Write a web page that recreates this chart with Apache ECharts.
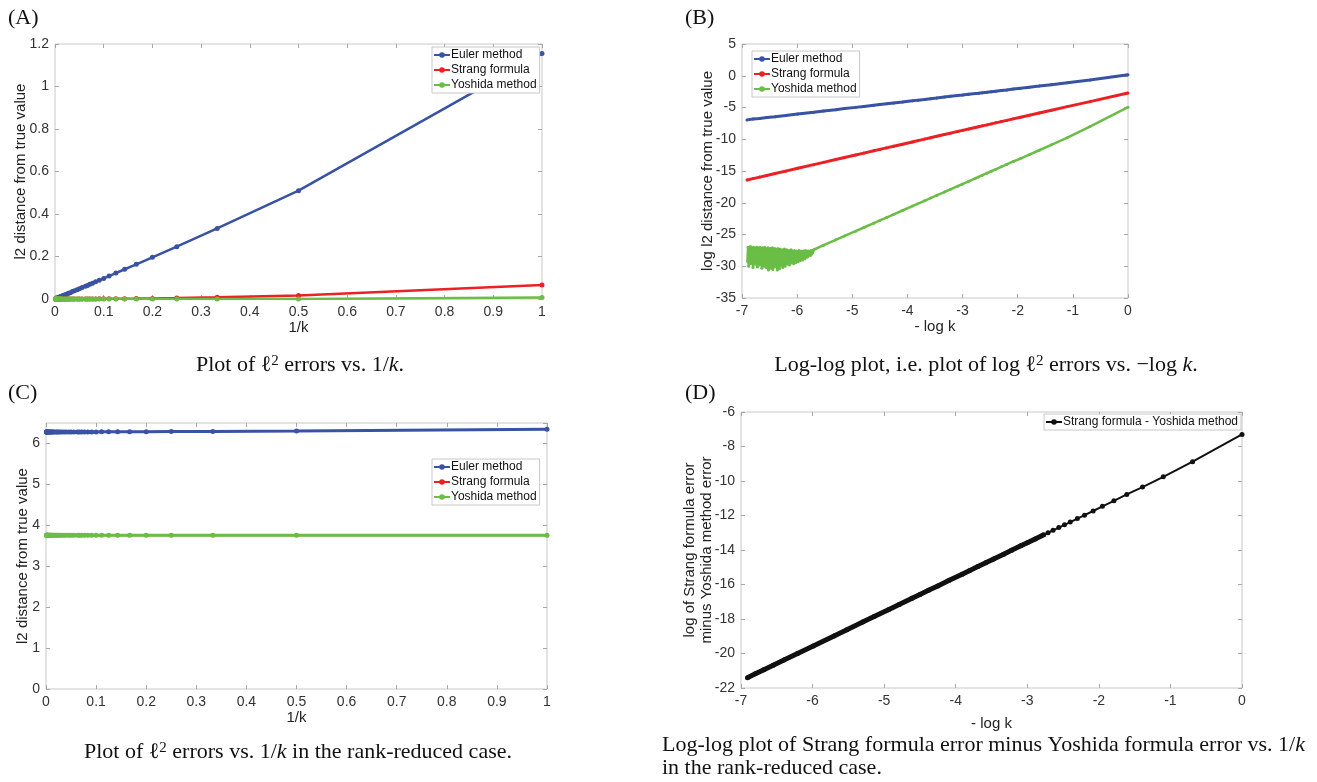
<!DOCTYPE html>
<html>
<head>
<meta charset="utf-8">
<title>Splitting errors</title>
<script src="https://cdn.jsdelivr.net/npm/echarts@6/dist/echarts.min.js"></script>
<style>
    html, body { margin: 0; padding: 0; background: #fff; }
    #main { width: 1317px; height: 782px; }
</style>
</head>
<body>
<div id="main"></div>
<script>
// sampled k = 1..1000, written as 1/k (panels A, C) and -log k (panels B, D)
var invK = [1, 0.5, 0.333, 0.25, 0.2, 0.167, 0.143, 0.125, 0.111, 0.1, 0.0909, 0.0833, 0.0769, 0.0714, 0.0667, 0.0625,
    0.0556, 0.05, 0.0455, 0.04, 0.0357, 0.0313, 0.0278, 0.025, 0.0222, 0.02, 0.0167, 0.0143, 0.0125, 0.0111, 0.01,
    0.0083, 0.0071, 0.0059, 0.005, 0.004, 0.0033, 0.0025, 0.002, 0.0017, 0.0014, 0.0013, 0.0011, 0.001];
var negLogK = [0, -0.69, -1.10, -1.39, -1.61, -1.79, -1.95, -2.08, -2.20, -2.30, -2.40, -2.48, -2.56, -2.64, -2.71, -2.77,
    -2.89, -3.00, -3.09, -3.22, -3.33, -3.47, -3.58, -3.69, -3.81, -3.91, -4.09, -4.25, -4.38, -4.50, -4.61,
    -4.79, -4.94, -5.14, -5.30, -5.52, -5.70, -5.99, -6.21, -6.40, -6.55, -6.68, -6.80, -6.91];

// (A) l2 errors vs 1/k
var eulerA = [1.155, 0.510, 0.332, 0.246, 0.196, 0.163, 0.140, 0.122, 0.108, 0.097, 0.088, 0.081, 0.074, 0.069, 0.064, 0.060,
    0.054, 0.048, 0.044, 0.039, 0.035, 0.030, 0.027, 0.024, 0.0215, 0.0193, 0.0161, 0.0138, 0.0120, 0.0107, 0.0096,
    0.0080, 0.0069, 0.0057, 0.0048, 0.0039, 0.0032, 0.0024, 0.0019, 0.0016, 0.0014, 0.0012, 0.0011, 0.00096];
var strangA = [0.066, 0.0169, 0.0077, 0.0044, 0.0028, 0.0020, 0.0015, 0.0011, 0.0009, 0.0007, 0.0006, 0.0005, 0.0004, 0.0004, 0.0003, 0.0003,
    0.0002, 0.0002, 0.0002, 0.0001, 0.0001, 0.0001, 0.0001, 0.0001, 0, 0, 0, 0, 0, 0, 0,
    0, 0, 0, 0, 0, 0, 0, 0, 0, 0, 0, 0, 0];
var yoshidaA = [0.0065, 0.0004, 0.0001, 0, 0, 0, 0, 0, 0, 0, 0, 0, 0, 0, 0, 0,
    0, 0, 0, 0, 0, 0, 0, 0, 0, 0, 0, 0, 0, 0, 0,
    0, 0, 0, 0, 0, 0, 0, 0, 0, 0, 0, 0, 0];

// (B) log errors vs -log k
var eulerB = [0.14, -0.67, -1.10, -1.40, -1.63, -1.81, -1.97, -2.10, -2.23, -2.33, -2.43, -2.51, -2.60, -2.67, -2.75, -2.81,
    -2.92, -3.04, -3.12, -3.24, -3.35, -3.51, -3.61, -3.73, -3.84, -3.95, -4.13, -4.28, -4.42, -4.54, -4.65,
    -4.83, -4.98, -5.17, -5.34, -5.55, -5.74, -6.03, -6.27, -6.44, -6.57, -6.73, -6.81, -6.95];
var strangB = [-2.72, -4.08, -4.86, -5.43, -5.86, -6.22, -6.53, -6.79, -7.03, -7.22, -7.42, -7.58, -7.74, -7.89, -8.03, -8.15,
    -8.39, -8.60, -8.78, -9.04, -9.26, -9.54, -9.76, -9.98, -10.22, -10.42, -10.78, -11.10, -11.36, -11.60, -11.82,
    -12.18, -12.48, -12.88, -13.20, -13.64, -14.00, -14.58, -15.02, -15.40, -15.70, -15.96, -16.20, -16.42];
var yoshidaB = [-4.95, -8.00, -9.76, -10.88, -11.73, -12.43, -13.04, -13.50, -13.96, -14.35, -14.73, -15.04, -15.35, -15.66, -15.93, -16.16,
    -16.62, -17.05, -17.39, -17.89, -18.31, -18.85, -19.27, -19.69, -20.15, -20.53, -21.22, -21.83, -22.33, -22.79, -23.21,
    -23.90, -24.47, -25.23, -25.84, -26.68, -27.40];
// round-off floor of the Yoshida error for large k
var yoshidaNoiseX = [
    -5.71, -5.72, -5.73, -5.74, -5.75, -5.76, -5.77, -5.78, -5.79, -5.80,
    -5.81, -5.82, -5.83, -5.84, -5.85, -5.86, -5.87, -5.88, -5.89, -5.90,
    -5.91, -5.92, -5.93, -5.94, -5.95, -5.96, -5.97, -5.98, -5.99, -6.00,
    -6.01, -6.02, -6.03, -6.04, -6.05, -6.06, -6.07, -6.08, -6.09, -6.10,
    -6.11, -6.12, -6.13, -6.14, -6.15, -6.16, -6.17, -6.18, -6.19, -6.20,
    -6.21, -6.22, -6.23, -6.24, -6.25, -6.26, -6.27, -6.28, -6.29, -6.30,
    -6.31, -6.32, -6.33, -6.34, -6.35, -6.36, -6.37, -6.38, -6.39, -6.40,
    -6.41, -6.42, -6.43, -6.44, -6.45, -6.46, -6.47, -6.48, -6.49, -6.50,
    -6.51, -6.52, -6.53, -6.54, -6.55, -6.56, -6.57, -6.58, -6.59, -6.60,
    -6.61, -6.62, -6.63, -6.64, -6.65, -6.66, -6.67, -6.68, -6.69, -6.70,
    -6.71, -6.72, -6.73, -6.74, -6.75, -6.76, -6.77, -6.78, -6.79, -6.80,
    -6.81, -6.82, -6.83, -6.84, -6.85, -6.86, -6.87, -6.88, -6.89, -6.90];
var yoshidaNoiseY = [
    -27.5, -27.9, -27.6, -28.1, -27.5, -28.3, -27.7, -28.0, -27.6, -28.4,
    -27.6, -28.6, -27.7, -28.2, -27.5, -28.8, -27.8, -28.4, -27.6, -29.0,
    -27.7, -28.5, -27.6, -29.1, -27.8, -28.7, -27.5, -29.3, -27.7, -28.6,
    -27.6, -29.4, -27.8, -28.9, -27.5, -29.6, -27.7, -29.0, -27.6, -29.5,
    -27.4, -29.2, -27.7, -29.8, -27.5, -28.9, -27.6, -29.7, -27.4, -29.3,
    -27.5, -30.0, -27.3, -29.4, -27.6, -30.2, -27.4, -29.1, -27.5, -29.9,
    -27.3, -30.4, -27.5, -29.6, -27.2, -30.6, -27.4, -29.5, -27.3, -30.1,
    -27.2, -29.7, -27.4, -30.5, -27.1, -29.4, -27.3, -30.3, -27.2, -29.8,
    -27.3, -30.6, -27.1, -29.5, -27.4, -30.2, -27.2, -29.3, -27.0, -30.0,
    -27.2, -29.4, -27.1, -30.3, -27.3, -29.0, -27.0, -29.8, -27.2, -29.3,
    -27.1, -30.1, -27.0, -29.2, -27.3, -29.7, -27.1, -29.0, -27.0, -30.2,
    -27.2, -29.3, -27.0, -29.6, -26.9, -29.1, -27.2, -30.0, -27.0, -29.2];

// (C) rank-reduced case
var eulerC = [6.35, 6.305, 6.295, 6.29, 6.288, 6.286, 6.285, 6.284, 6.284, 6.283, 6.283, 6.283, 6.282, 6.282, 6.282, 6.282,
    6.281, 6.281, 6.281, 6.281, 6.281, 6.28, 6.28, 6.28, 6.28, 6.28, 6.28, 6.28, 6.28, 6.28, 6.28,
    6.28, 6.28, 6.28, 6.28, 6.28, 6.28, 6.28, 6.28, 6.28, 6.28, 6.28, 6.28, 6.28];
var strangC = [3.76, 3.76, 3.76, 3.76, 3.76, 3.76, 3.76, 3.76, 3.76, 3.76, 3.76, 3.76, 3.76, 3.76, 3.76, 3.76,
    3.76, 3.76, 3.76, 3.76, 3.76, 3.76, 3.76, 3.76, 3.76, 3.76, 3.76, 3.76, 3.76, 3.76, 3.76,
    3.76, 3.76, 3.76, 3.76, 3.76, 3.76, 3.76, 3.76, 3.76, 3.76, 3.76, 3.76, 3.76];
var yoshidaC = [3.76, 3.76, 3.76, 3.76, 3.76, 3.76, 3.76, 3.76, 3.76, 3.76, 3.76, 3.76, 3.76, 3.76, 3.76, 3.76,
    3.76, 3.76, 3.76, 3.76, 3.76, 3.76, 3.76, 3.76, 3.76, 3.76, 3.76, 3.76, 3.76, 3.76, 3.76,
    3.76, 3.76, 3.76, 3.76, 3.76, 3.76, 3.76, 3.76, 3.76, 3.76, 3.76, 3.76, 3.76];

// (D) log of (Strang error - Yoshida error)
var diffD = [-7.30, -8.88, -9.76, -10.35, -10.78, -11.15, -11.47, -11.74, -11.98, -12.18, -12.38, -12.54, -12.70, -12.86, -13.00, -13.12,
    -13.36, -13.58, -13.76, -14.02, -14.24, -14.52, -14.74, -14.96, -15.20, -15.40, -15.76, -16.08, -16.34, -16.58, -16.80,
    -17.16, -17.46, -17.86, -18.18, -18.62, -18.98, -19.56, -20.00, -20.38, -20.68, -20.94, -21.18, -21.40];

var names = ['Euler method', 'Strang formula', 'Yoshida method'];
var diffName = 'Strang formula - Yoshida method';

var BLUE = '#3953a4', RED = '#ed2024', GREEN = '#6abd45', BLACK = '#111';
var SANS = 'Liberation Sans', SERIF = 'Liberation Serif';

function pairs(xs, ys) {
    var out = [];
    for (var i = 0; i < ys.length && i < xs.length; i++) out.push([xs[i], ys[i]]);
    return out;
}

var xAxes = [], yAxes = [], grids = [];
var tick = {show: true, inside: true, length: 4, lineStyle: {color: '#a8a8a8'}};
var label = {color: '#333', fontSize: 14, fontFamily: SANS, margin: 6};
var nameStyle = {color: '#222', fontSize: 15, fontFamily: SANS, lineHeight: 17};

// one boxed MATLAB-like panel: grid + bottom/left axes with labels, top/right axes with ticks only
function panel(box, x, y) {
    var gi = grids.length;
    grids.push({left: box[0], top: box[1], width: box[2], height: box[3], show: true,
        borderColor: '#c8c8c8', borderWidth: 1, backgroundColor: 'transparent'});
    ['bottom', 'top'].forEach(function (pos) {
        xAxes.push({type: 'value', gridIndex: gi, position: pos, min: x.min, max: x.max, interval: x.interval,
            axisLine: {show: false, onZero: false}, axisTick: tick, splitLine: {show: false},
            axisLabel: pos === 'bottom' ? label : {show: false},
            name: pos === 'bottom' ? x.name : '', nameLocation: 'middle', nameGap: x.gap,
            nameMoveOverlap: false, nameTextStyle: nameStyle});
    });
    ['left', 'right'].forEach(function (pos) {
        var lab = pos === 'left' ? echarts.util.extend({showMaxLabel: y.showMax !== false}, label) : {show: false};
        yAxes.push({type: 'value', gridIndex: gi, position: pos, min: y.min, max: y.max, interval: y.interval,
            axisLine: {show: false, onZero: false}, axisTick: tick, splitLine: {show: false}, axisLabel: lab,
            name: pos === 'left' ? y.name : '', nameLocation: 'middle', nameGap: y.gap,
            nameMoveOverlap: false, nameTextStyle: nameStyle});
    });
    return gi * 2;
}

var aIdx = panel([55, 44, 487, 255], {min: 0, max: 1, interval: 0.1, name: '1/k', gap: 20},
    {min: 0, max: 1.2, interval: 0.2, name: 'l2 distance from true value', gap: 26});
var bIdx = panel([742, 44, 386, 254], {min: -7, max: 0, interval: 1, name: '- log k', gap: 20},
    {min: -35, max: 5, interval: 5, name: 'log l2 distance from true value', gap: 26});
var cIdx = panel([46, 423, 501, 266], {min: 0, max: 1, interval: 0.1, name: '1/k', gap: 20},
    {min: 0, max: 6.5, interval: 1, name: 'l2 distance from true value', gap: 15, showMax: false});
var dIdx = panel([741, 412, 501, 276], {min: -7, max: 0, interval: 1, name: '- log k', gap: 27},
    {min: -22, max: -6, interval: 2, name: 'log of Strang formula error\nminus Yoshida method error', gap: 26});

function line(name, color, idx, data, width, size) {
    return {name: name, type: 'line', xAxisIndex: idx, yAxisIndex: idx, data: data,
        symbol: 'circle', symbolSize: size, showSymbol: size > 0, color: color,
        lineStyle: {width: width, color: color}, itemStyle: {color: color}, emphasis: {disabled: true}};
}

var series = [
    line(names[0], BLUE, aIdx, pairs(invK, eulerA), 2.5, 5),
    line(names[1], RED, aIdx, pairs(invK, strangA), 2.5, 5),
    line(names[2], GREEN, aIdx, pairs(invK, yoshidaA), 2.5, 5),

    line(names[0], BLUE, bIdx, pairs(negLogK, eulerB), 3, 3),
    line(names[1], RED, bIdx, pairs(negLogK, strangB), 3, 3),
    line(names[2], GREEN, bIdx, pairs(negLogK, yoshidaB).concat(pairs(yoshidaNoiseX, yoshidaNoiseY)), 2.5, 3),

    line(names[0], BLUE, cIdx, pairs(invK, eulerC), 3, 5),
    line(names[1], RED, cIdx, pairs(invK, strangC), 2, 4),
    line(names[2], GREEN, cIdx, pairs(invK, yoshidaC), 3, 5),

    // dense markers merge into a thick band for large k
    line('dense tail', BLACK, dIdx, pairs(negLogK, diffD).slice(15), 5, 0),
    line(diffName, BLACK, dIdx, pairs(negLogK, diffD), 2, 5)
];

function legendAt(left, top, data) {
    return {left: left, top: top, orient: 'vertical', data: data, selectedMode: false,
        backgroundColor: '#fff', borderColor: '#c8c8c8', borderWidth: 1, borderRadius: 0,
        padding: [2, 3, 2, 1], itemGap: 3, itemWidth: 16, itemHeight: 7,
        textStyle: {fontSize: 12, fontFamily: SANS, color: '#111', padding: [0, 0, 0, -4]}};
}

var capFont = {fontFamily: SERIF, fontSize: 22, color: '#111'};
var rich = {
    r: capFont,
    i: echarts.util.extend({fontStyle: 'italic'}, capFont),
    s: {fontFamily: SERIF, fontSize: 15, color: '#111', verticalAlign: 'top'}
};

function txt(x, y, text, align, size) {
    return {type: 'text', x: x, y: y, silent: true,
        style: {text: text, rich: rich, align: align, textAlign: align, verticalAlign: 'middle', textVerticalAlign: 'middle',
            fontFamily: SERIF, fontSize: size || 22, fill: '#111'}};
}

var graphics = [
    txt(8, 18, '(A)', 'left', 22),
    txt(685, 18, '(B)', 'left', 22),
    txt(8, 393, '(C)', 'left', 22),
    txt(685, 393, '(D)', 'left', 22),
    txt(300, 365, '{r|Plot of ℓ}{s|2}{r| errors vs. 1/}{i|k}{r|.}', 'center'),
    txt(986, 365, '{r|Log-log plot, i.e. plot of log ℓ}{s|2}{r| errors vs. −log }{i|k}{r|.}', 'center'),
    txt(298, 752, '{r|Plot of ℓ}{s|2}{r| errors vs. 1/}{i|k}{r| in the rank-reduced case.}', 'center'),
    txt(662, 745, '{r|Log-log plot of Strang formula error minus Yoshida formula error vs. 1/}{i|k}', 'left'),
    txt(662, 768, '{r|in the rank-reduced case.}', 'left')
];

var chart = echarts.init(document.getElementById('main'));
chart.setOption({
    animation: false,
    backgroundColor: '#fff',
    grid: grids,
    xAxis: xAxes,
    yAxis: yAxes,
    legend: [
        legendAt(432, 47, names),
        legendAt(752, 51, names),
        legendAt(432, 459, names),
        legendAt(1044, 414, [diffName])
    ],
    graphic: graphics,
    series: series
});
</script>
</body>
</html>
